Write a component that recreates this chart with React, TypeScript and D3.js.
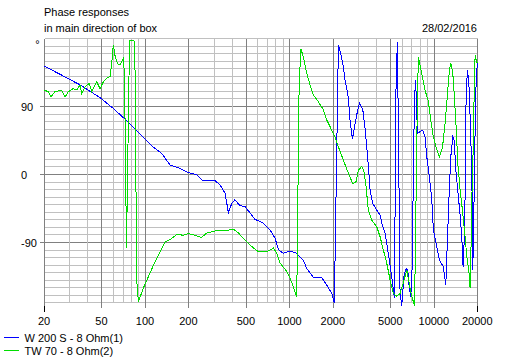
import React from "react";
import * as d3 from "d3";

// tick labels
const freqTicks = [20, 50, 100, 200, 500, 1000, 2000, 5000, 10000, 20000];
const phaseTicks = [90, 0, -90];

// [frequency Hz, phase deg]
const wooferPhase: [number, number][] = [
  [20, 143], [25.8, 132], [35.5, 118], [48.9, 101], [60.1, 87], [70.5, 75],
  [82.7, 62], [97, 49], [113.7, 36], [127.2, 29], [133.4, 25], [149, 12],
  [175, 7.5], [199, 2], [229, -1], [252, -9], [306, -9], [331, -14.5],
  [359, -25.5], [378, -51], [399, -39], [420, -34], [455, -42], [493, -43],
  [578, -60], [661, -65], [735, -74], [796, -85], [839, -100], [908, -105],
  [1011, -102], [1125, -105], [1185, -110], [1250, -114], [1319, -125],
  [1466, -137], [1676, -137], [1815, -147], [1965, -158], [2048, -171],
  [2184, 171], [2280, 157], [2364, 142], [2430, 124], [2496, 113], [2560, 100],
  [2630, 71.5], [2730, 46], [2850, 67], [2956, 82.5], [3052, 94], [3221, 85.6],
  [3342, 60.5], [3467, 27], [3522, 10], [3618, -21], [3778, -39], [4028, -48],
  [4245, -54], [4362, -65], [4596, -78.5], [4722, -92], [4922, -114],
  [5115, -136], [5246, -153], [5332, -164], [5478, 120], [5593, 175],
  [5718, 14.5], [5838, -158], [5998, -174], [6223, -134], [6424, -125],
  [6600, -127], [6739, -147], [6924, -163], [7102, -118], [7216, 5],
  [7334, 89], [7451, 124], [7571, 102], [7693, 54], [8032, 56], [8386, 58],
  [8698, 49], [8937, 23], [9317, -3.5], [9681, -34], [9931, -74],
  [10368, -92], [10928, -114], [11650, -123], [12102, -147], [12494, -74],
  [12820, -17], [13110, 23], [13534, 49], [13817, 45], [14266, 1],
  [14796, -30], [15373, -65], [15694, -92], [15946, -123], [16203, -92],
  [16464, -30], [16728, 102], [17078, 137.6], [17464, 124], [17830, 76],
  [18322, 5], [18616, -127], [19006, -30], [19312, 58], [19622, 120],
  [20000, 146.5],
];

const tweeterPhase: [number, number][] = [
  [20, 111], [21.4, 109], [22.4, 102], [23.8, 109], [26.5, 111], [28, 102],
  [29.5, 109], [31.9, 113], [33.8, 111], [35.5, 118], [36.5, 107],
  [38.5, 115.5], [41.2, 120], [42.8, 109], [46.3, 122], [48.9, 113],
  [51.5, 122], [54.4, 127], [57.3, 129], [58.9, 146.5], [60.4, 171], [62, 157],
  [64.4, 146.5], [67.2, 144], [70.8, 153], [72.2, 131], [74.5, -98],
  [78.2, 177], [81, 177], [84.4, 176], [85.4, 135], [87.7, -140], [90, -169],
  [97.5, -151], [108.4, -131], [117.4, -116], [127.2, -103], [137.7, -90],
  [149, -87], [166, -80], [184, -81], [200, -79], [222, -81], [247, -84],
  [268, -78], [314, -75], [359, -75], [409, -73], [443, -78], [507, -90],
  [549, -96], [610, -103], [697, -103], [774, -98], [818, -105], [862, -118],
  [959, -129], [1011, -138], [1065, -149], [1125, -163], [1167, 111],
  [1199, 166], [1250, 155], [1319, 133], [1391, 118], [1466, 104.5],
  [1587, 95.7], [1719, 85], [1815, 71.5], [1965, 58], [2071, 49], [2184, 36],
  [2364, 18.5], [2560, 1], [2747, -13], [2896, -10], [3004, 5], [3170, 10],
  [3289, 3], [3396, -17], [3522, -48], [3718, -61], [4028, -70], [4245, -83],
  [4474, -100.6], [4722, -118], [4978, -140], [5246, -158], [5540, -162],
  [5838, -158], [6153, -144], [6496, -127], [6957, -158], [7357, -175],
  [7535, -30], [7693, 98], [7818, 155], [8254, 133], [8698, 111],
  [9170, 95.7], [9527, 71.5], [9931, 49], [10483, 32], [10928, 23],
  [11464, 34], [11968, 67], [12494, 111], [12820, 137.6], [13110, 146.5],
  [13534, 133], [13884, 102], [14266, 62.6], [14657, 14], [15204, -21],
  [15870, -52], [16464, -83], [16918, -109.5], [17464, -127], [17830, -151],
  [18032, -114], [18322, -34], [18616, 10], [19006, 102], [19312, 157.5],
  [19622, 151], [20000, 146.5],
];

const series = [
  { name: "W 200 S - 8 Ohm(1)", color: "#0000ff", data: wooferPhase },
  { name: "TW 70 - 8 Ohm(2)", color: "#00dd00", data: tweeterPhase },
];

const W = 514;
const H = 359;
const left = 44;
const right = 477.3;
const top = 38;
const gridBottom = 302;
const font = "'Liberation Sans', Arial, sans-serif";
const light = "#c0c0c0";
const dark = "#808080";

export default function App() {
  const x = d3.scaleLog().domain([20, 20000]).range([left, right]);
  const y = d3.scaleLinear().domain([-180, 180]).range([310, top]);
  const px = (v: number) => Math.round(v) + 0.5;

  const minorFreqs: number[] = [];
  [10, 100, 1000, 10000].forEach((dec) => {
    d3.range(1, 10).forEach((m) => {
      const f = m * dec;
      if (f > 20 && f < 20000 && !freqTicks.includes(f)) minorFreqs.push(f);
    });
  });
  const hLines = d3.range(-170, 181, 10);

  const line = d3
    .line<[number, number]>()
    .x((d) => x(d[0]))
    .y((d) => y(d[1]));

  const xl = px(left);
  const xr = px(right);

  return (
    <svg
      width={W}
      height={H}
      style={{ position: "absolute", left: 0, top: 0, background: "#fff" }}
      fontFamily={font}
      fontSize={11}
    >
      {/* horizontal grid */}
      {hLines.map((p) => (
        <line
          key={"h" + p}
          x1={xl}
          x2={xr}
          y1={px(y(p))}
          y2={px(y(p))}
          stroke={phaseTicks.includes(p) ? dark : light}
          shapeRendering="crispEdges"
        />
      ))}
      {/* minor vertical grid */}
      {minorFreqs.map((f) => (
        <line
          key={"m" + f}
          x1={px(x(f))}
          x2={px(x(f))}
          y1={px(top)}
          y2={gridBottom}
          stroke={light}
          shapeRendering="crispEdges"
        />
      ))}
      {/* major vertical grid + ticks */}
      {freqTicks.map((f) => (
        <g key={"M" + f}>
          <line
            x1={px(x(f))}
            x2={px(x(f))}
            y1={px(top)}
            y2={308}
            stroke={dark}
            shapeRendering="crispEdges"
          />
          <text x={x(f)} y={324.5} textAnchor="middle" fill="#000">
            {f}
          </text>
        </g>
      ))}
      <line x1={xl} x2={xl} y1={306} y2={312} stroke="#000" shapeRendering="crispEdges" />
      <line x1={xr} x2={xr} y1={306} y2={312} stroke="#000" shapeRendering="crispEdges" />
      {/* y ticks */}
      {phaseTicks.map((p) => (
        <g key={"y" + p}>
          <line
            x1={40}
            x2={xl}
            y1={px(y(p))}
            y2={px(y(p))}
            stroke={dark}
            shapeRendering="crispEdges"
          />
          <text x={21} y={y(p) + 4.5} fill="#000">
            {p}
          </text>
        </g>
      ))}
      <text x={37.5} y={48} textAnchor="middle" fill="#000">
        °
      </text>

      {/* curves */}
      {series.map((s) => (
        <path
          key={s.name}
          d={line(s.data) || ""}
          fill="none"
          stroke={s.color}
          strokeWidth={1}
          shapeRendering="crispEdges"
        />
      ))}

      {/* titles */}
      <text x={44} y={16} fill="#000">
        Phase responses
      </text>
      <text x={44} y={31.5} fill="#000">
        in main direction of box
      </text>
      <text x={477} y={31.5} textAnchor="end" fill="#000">
        28/02/2016
      </text>

      {/* legend */}
      {series.map((s, i) => (
        <g key={"lg" + i} transform={`translate(0, ${337.5 + i * 13})`}>
          <line x1={4} x2={19} y1={0} y2={0} stroke={s.color} shapeRendering="crispEdges" />
          <text x={24.5} y={4} fill="#000">
            {s.name}
          </text>
        </g>
      ))}
    </svg>
  );
}
